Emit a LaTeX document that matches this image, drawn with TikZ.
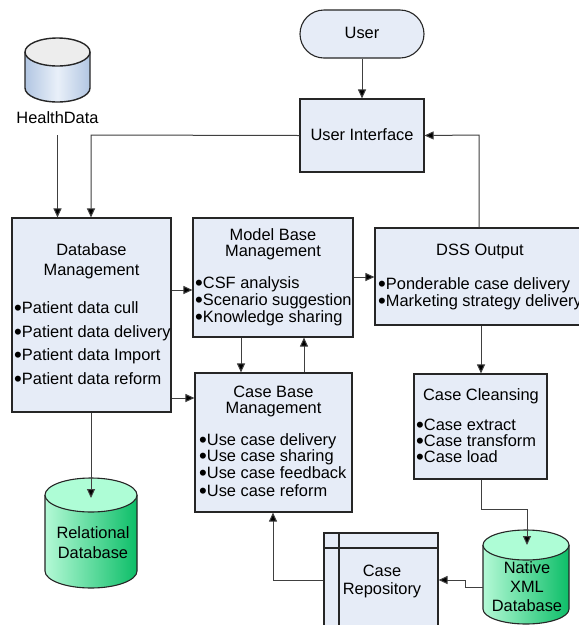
\documentclass[tikz,border=0pt]{standalone}
\usepackage{fontspec}
\setmainfont{Liberation Sans}
\usetikzlibrary{arrows.meta,calc}
\definecolor{boxfill}{HTML}{E6ECF7}
\definecolor{boxline}{HTML}{262626}
\definecolor{connc}{HTML}{404040}
\definecolor{mintlight}{HTML}{B4F9D6}
\definecolor{mintdark}{HTML}{0DBE68}
\definecolor{minttop}{HTML}{AEFDD6}
\definecolor{hdbody}{HTML}{B2C6E2}
\definecolor{hdmid}{HTML}{E9F0F9}
\definecolor{hdtop}{HTML}{EDEDED}
\newcommand{\bu}{\raisebox{-0.13em}{\scalebox{1.35}{•}}}
\begin{document}
\begin{tikzpicture}[x=1pt,y=-1pt,
  box/.style={draw=boxline,fill=boxfill,line width=1.1pt,inner sep=0pt},
  txt/.style={font=\fontsize{16.4}{18}\selectfont,inner sep=0pt,text=black,yshift=-3pt},
  ctr/.style={txt,anchor=mid},
  bul/.style={txt,anchor=mid west},
  arr/.style={draw=connc,line width=1pt,-{Triangle[length=9pt,width=8pt,fill=black]}},
  cylline/.style={draw=black!85,line width=1.1pt}]
\useasboundingbox (0,0) rectangle (579,625);
\clip (0,0) rectangle (579,625);
\fill[white] (0,0) rectangle (579,625);

% helper positions
\coordinate (x57) at (57.5,0);
\coordinate (x91) at (91,0);
\coordinate (x241) at (241,0);
\coordinate (x304) at (304,0);
\coordinate (x273) at (273,0);
\coordinate (x339) at (339,0);
\coordinate (x465) at (465,0);
\coordinate (x479) at (479,0);
\coordinate (x481) at (481,0);
\coordinate (x527) at (527,0);
\coordinate (y135) at (0,135);
\coordinate (y277) at (0,277);
\coordinate (y290) at (0,290);
\coordinate (y398) at (0,398);
\coordinate (y509) at (0,509);
\coordinate (y548) at (0,548);
\coordinate (y580) at (0,580);
\coordinate (y587) at (0,587);

% boxes
\node[box,rounded corners=24pt,minimum width=124pt,minimum height=48pt] (user) at (362,34) {};
\node[box,minimum width=124pt,minimum height=73pt] (ui) at (362,135.5) {};
\node[box,minimum width=159pt,minimum height=194pt] (db) at (91.5,315) {};
\node[box,minimum width=160pt,minimum height=119pt] (mbm) at (273,277.5) {};
\node[box,minimum width=157pt,minimum height=139pt] (cbm) at (273.5,442.5) {};
\node[box,minimum width=215pt,minimum height=97pt] (dss) at (482.5,276.5) {};
\node[box,minimum width=133pt,minimum height=105pt] (cc) at (480.5,426.5) {};
\node[box,minimum width=114pt,minimum height=107pt] (repo) at (381,586.5) {};
\draw[boxline,line width=1.1pt] (repo.west |- y548) -- (repo.east |- y548);
\draw[boxline,line width=1.1pt] (x339 |- repo.north) -- (x339 |- repo.south);

% HealthData cylinder
\shade[left color=hdbody,right color=hdbody,middle color=hdmid]
  (25,52) -- (25,88) arc[start angle=180,end angle=360,x radius=32.5pt,y radius=14pt] -- (90,52) -- cycle;
\draw[cylline,line width=1.4pt] (25,52) -- (25,88) arc[start angle=180,end angle=360,x radius=32.5pt,y radius=14pt] -- (90,52);
\draw[cylline,line width=1.4pt,fill=hdtop] (57.5,52) ellipse[x radius=32.5pt,y radius=14pt];
\node[ctr] (hdlbl) at (57.5,118) {HealthData};
\coordinate (hd) at (57.5,135);

% Relational database cylinder
\shade[left color=mintlight,right color=mintdark]
  (45,495) -- (45,571) arc[start angle=180,end angle=360,x radius=46pt,y radius=17pt] -- (137,495) -- cycle;
\draw[cylline] (45,495) -- (45,571) arc[start angle=180,end angle=360,x radius=46pt,y radius=17pt] -- (137,495);
\draw[cylline,fill=minttop] (91,495) ellipse[x radius=46pt,y radius=17pt];
\coordinate (reltop) at (91,498);
\node[ctr] (rel1) at (93,533) {Relational};
\node[ctr] (rel2) at (93,553) {Database};

% Native XML cylinder
\shade[left color=mintlight,right color=mintdark]
  (483,545) -- (483,609) arc[start angle=180,end angle=360,x radius=43pt,y radius=15pt] -- (569,545) -- cycle;
\draw[cylline] (483,545) -- (483,609) arc[start angle=180,end angle=360,x radius=43pt,y radius=15pt] -- (569,545);
\draw[cylline,fill=minttop] (526,545) ellipse[x radius=43pt,y radius=15pt];
\coordinate (xmltop) at (527,545);
\coordinate (xmlleft) at (483,587);
\node[ctr] (xml1) at (527,568) {Native};
\node[ctr] (xml2) at (527,587) {XML};
\node[ctr] (xml3) at (527,606) {Database};

% texts
\node[ctr] (tuser) at (362,33) {User};
\node[ctr] (tui) at (362,135) {User Interface};
\node[ctr] (tdb1) at (91.5,250) {Database};
\node[ctr] (tdb2) at (91.5,270) {Management};
\node[bul] (bdb1) at (14,308) {\bu Patient data cull};
\node[bul] (bdb2) at (14,332) {\bu Patient data delivery};
\node[bul] (bdb3) at (14,355) {\bu Patient data Import};
\node[bul] (bdb4) at (14,379) {\bu Patient data reform};
\node[ctr] (tmbm1) at (273,235) {Model Base};
\node[ctr] (tmbm2) at (273,250.5) {Management};
\node[bul] (bmbm1) at (195,283) {\bu CSF analysis};
\node[bul] (bmbm2) at (195,300) {\bu Scenario suggestion};
\node[bul] (bmbm3) at (195,317) {\bu Knowledge sharing};
\node[ctr] (tcbm1) at (273.5,392) {Case Base};
\node[ctr] (tcbm2) at (273.5,407.5) {Management};
\node[bul] (bcbm1) at (199,440) {\bu Use case delivery};
\node[bul] (bcbm2) at (199,456) {\bu Use case sharing};
\node[bul] (bcbm3) at (199,473) {\bu Use case feedback};
\node[bul] (bcbm4) at (199,491) {\bu Use case reform};
\node[ctr] (tdss) at (480,250) {DSS Output};
\node[bul] (bdss1) at (378,284) {\bu Ponderable case delivery};
\node[bul] (bdss2) at (378,301) {\bu Marketing strategy delivery};
\node[ctr] (tcc) at (481,395) {Case Cleansing};
\node[bul] (bcc1) at (416,425) {\bu Case extract};
\node[bul] (bcc2) at (416,441) {\bu Case transform};
\node[bul] (bcc3) at (416,457) {\bu Case load};
\node[ctr] (trepo1) at (382,571) {Case};
\node[ctr] (trepo2) at (382,589) {Repository};

% connectors
\draw[arr] (user) -- (ui);
\draw[arr] (hd) -- (x57 |- db.north);
\draw[arr] (ui.west) -- (x91 |- y135) -- (x91 |- db.north);
\draw[arr] (db.east |- y290) -- (mbm.west |- y290);
\draw[arr] (db.east |- y398) -- (cbm.west |- y398);
\draw[arr] (x241 |- mbm.south) -- (x241 |- cbm.north);
\draw[arr] (x304 |- cbm.north) -- (x304 |- mbm.south);
\draw[arr] (mbm.east |- y277) -- (dss.west |- y277);
\draw[arr] (x479 |- dss.north) -- (x479 |- y135) -- (ui.east);
\draw[arr] (x481 |- dss.south) -- (x481 |- cc.north);
\draw[arr] (x91 |- db.south) -- (reltop);
\draw[arr] (x481 |- cc.south) -- (x481 |- y509) -- (x527 |- y509) -- (xmltop);
\draw[arr] (xmlleft) -- (x465 |- y587) -- (x465 |- y580) -- (repo.east |- y580);
\draw[arr] (repo.west |- y580) -- (x273 |- y580) -- (x273 |- cbm.south);
\end{tikzpicture}
\end{document}
